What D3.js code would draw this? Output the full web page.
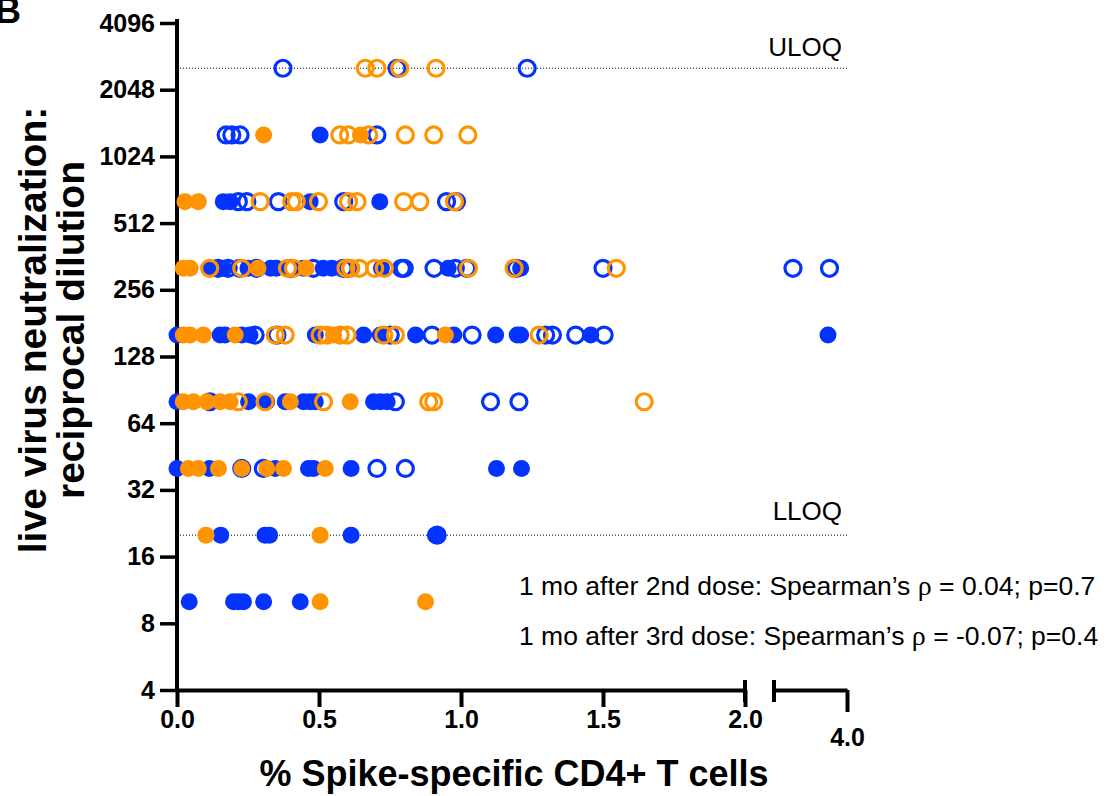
<!DOCTYPE html>
<html>
<head>
<meta charset="utf-8">
<script src="https://cdn.jsdelivr.net/npm/d3@7"></script>
<style>
  body { margin: 0; background: #fff; }
  text { font-family: "Liberation Sans", Arial, sans-serif; }
</style>
</head>
<body>
<div id="chart"></div>
<script>
// [x = % spike-specific CD4+ T cells, y = reciprocal dilution]
const dose2Filled = [
    [0.504, 1280],
    [0.163, 640], [0.187, 640], [0.469, 640], [0.714, 640],
    [0.115, 320], [0.135, 320], [0.165, 320], [0.25, 320], [0.33, 320], [0.35, 320], [0.445, 320],
    [0.515, 320], [0.545, 320], [0.72, 320], [0.955, 320], [1.21, 320],
    [0.0, 160], [0.152, 160], [0.169, 160], [0.228, 160], [0.257, 160], [0.487, 160], [0.657, 160],
    [0.716, 160], [0.84, 160], [0.975, 160], [1.122, 160], [1.198, 160], [1.21, 160], [1.457, 160], [3.87, 160],
    [0.0, 80], [0.252, 80], [0.316, 80], [0.381, 80], [0.446, 80], [0.469, 80], [0.487, 80],
    [0.692, 80], [0.716, 80], [0.74, 80],
    [0.0, 40], [0.114, 40], [0.346, 40], [0.463, 40], [0.481, 40], [0.613, 40], [1.125, 40], [1.213, 40],
    [0.154, 20], [0.31, 20], [0.326, 20], [0.613, 20], [0.91, 20],
    [0.043, 10], [0.199, 10], [0.216, 10], [0.234, 10], [0.305, 10], [0.434, 10]
];
const dose2Open = [
    [0.373, 2560], [0.775, 2560], [1.233, 2560],
    [0.173, 1280], [0.193, 1280], [0.222, 1280], [0.704, 1280],
    [0.216, 640], [0.246, 640], [0.357, 640], [0.587, 640], [0.949, 640], [0.984, 640],
    [0.145, 320], [0.18, 320], [0.22, 320], [0.28, 320], [0.4, 320], [0.48, 320], [0.585, 320],
    [0.6, 320], [0.79, 320], [0.8, 320], [0.905, 320], [0.98, 320], [1.02, 320], [1.195, 320],
    [1.5, 320], [3.63, 320], [3.88, 320],
    [0.275, 160], [0.352, 160], [0.751, 160], [0.898, 160], [1.039, 160], [1.298, 160], [1.322, 160],
    [1.404, 160], [1.504, 160],
    [0.116, 80], [0.769, 80], [1.104, 80], [1.204, 80],
    [0.228, 40], [0.304, 40], [0.704, 40], [0.804, 40],
    [0.916, 20]
];
const dose3Filled = [
    [0.305, 1280], [0.646, 1280],
    [0.028, 640], [0.075, 640],
    [0.022, 320], [0.046, 320], [0.285, 320], [0.455, 320],
    [0.022, 160], [0.046, 160], [0.093, 160], [0.205, 160], [0.551, 160], [0.945, 160],
    [0.022, 80], [0.058, 80], [0.105, 80], [0.152, 80], [0.187, 80], [0.399, 80], [0.61, 80],
    [0.04, 40], [0.075, 40], [0.146, 40], [0.228, 40], [0.316, 40], [0.375, 40], [0.522, 40],
    [0.102, 20], [0.504, 20],
    [0.504, 10], [0.875, 10]
];
const dose3Open = [
    [0.663, 2560], [0.704, 2560], [0.784, 2560], [0.912, 2560],
    [0.573, 1280], [0.604, 1280], [0.675, 1280], [0.804, 1280], [0.904, 1280], [1.024, 1280],
    [0.293, 640], [0.404, 640], [0.42, 640], [0.498, 640], [0.604, 640], [0.634, 640],
    [0.798, 640], [0.855, 640], [0.977, 640],
    [0.115, 320], [0.228, 320], [0.389, 320], [0.41, 320], [0.595, 320], [0.612, 320], [0.642, 320],
    [0.696, 320], [0.73, 320], [1.026, 320], [1.187, 320], [1.547, 320],
    [0.346, 160], [0.381, 160], [0.504, 160], [0.528, 160], [0.575, 160], [0.599, 160], [0.728, 160],
    [0.769, 160], [1.275, 160],
    [0.216, 80], [0.31, 80], [0.516, 80], [0.886, 80], [0.904, 80], [1.645, 80]
];

const yTicks = [4, 8, 16, 32, 64, 128, 256, 512, 1024, 2048, 4096];
const xTicksA = [0, 0.5, 1.0, 1.5, 2.0];
const xTicksB = [4.0];
const uloq = 2560;
const lloq = 20;
const notes = [
    ["1 mo after 2nd dose: Spearman\u2019s ", "\u03c1", " = 0.04; p=0.7"],
    ["1 mo after 3rd dose: Spearman\u2019s ", "\u03c1", " = -0.07; p=0.4"]
];

const blue = '#0433ff';
const orange = '#ff9300';

const margin = { top: 23, left: 177 };
const height = 667;

const svg = d3.select('#chart')
    .append('svg')
    .attr('width', 1113)
    .attr('height', 796);

const g = svg.append('g')
    .attr('transform', `translate(${margin.left},${margin.top})`);

const y = d3.scaleLog().base(2).domain([4, 4096]).range([height, 0]);
const xA = d3.scaleLinear().domain([0, 2]).range([0, 568]);
const xB = d3.scaleLinear().domain([3.5, 4.0]).range([597, 670]);
const x = v => v > 2.5 ? xB(v) : xA(v);

// reference lines
[[uloq, 'ULOQ', -12], [lloq, 'LLOQ', -15]].forEach(([v, label, dy]) => {
    g.append('line')
        .attr('x1', 3).attr('x2', 670)
        .attr('y1', y(v)).attr('y2', y(v))
        .attr('stroke', '#000')
        .attr('stroke-width', 1)
        .attr('stroke-dasharray', '1,2');
    g.append('text')
        .attr('x', 665).attr('y', y(v) + dy)
        .attr('text-anchor', 'end')
        .style('font-size', '26px')
        .text(label);
});

// y axis
const yAxis = g.append('g')
    .call(d3.axisLeft(y).tickValues(yTicks).tickFormat(d3.format('d')).tickSize(17).tickSizeOuter(0).tickPadding(5));
yAxis.select('.domain').attr('stroke-width', 4).attr('d', `M0,-4V${height}`);
yAxis.selectAll('.tick line').attr('stroke-width', 3.5);
yAxis.selectAll('.tick text')
    .style('font-size', '25px')
    .style('font-weight', 'bold')
    .attr('fill', '#000');

// x axis, broken
const xAxisA = g.append('g')
    .attr('transform', `translate(0,${height})`)
    .call(d3.axisBottom(xA).tickValues(xTicksA).tickFormat(d3.format('.1f')).tickSize(17).tickSizeOuter(0).tickPadding(3));
const xAxisB = g.append('g')
    .attr('transform', `translate(0,${height})`)
    .call(d3.axisBottom(xB).tickValues(xTicksB).tickFormat(d3.format('.1f')).tickSize(22).tickSizeOuter(0).tickPadding(16));
[xAxisA, xAxisB].forEach(ax => {
    ax.select('.domain').attr('stroke-width', 4);
    ax.selectAll('.tick line').attr('stroke-width', 4);
    ax.selectAll('.tick text')
        .style('font-size', '25px')
        .style('font-weight', 'bold')
        .attr('fill', '#000');
});
// break caps
[xA(2), xB(3.5)].forEach(px => {
    g.append('line')
        .attr('x1', px).attr('x2', px)
        .attr('y1', height - 10).attr('y2', height + 12)
        .attr('stroke', '#000')
        .attr('stroke-width', 4);
});

// points
const groups = [
    { data: dose2Filled, color: blue, open: false },
    { data: dose2Open, color: blue, open: true },
    { data: dose3Filled, color: orange, open: false },
    { data: dose3Open, color: orange, open: true }
];
groups.forEach(s => {
    g.append('g')
        .selectAll('circle')
        .data(s.data)
        .join('circle')
        .attr('cx', d => x(d[0]))
        .attr('cy', d => y(d[1]))
        .attr('r', s.open ? 8 : 8.5)
        .attr('fill', s.open ? 'none' : s.color)
        .attr('stroke', s.open ? s.color : 'none')
        .attr('stroke-width', 3.2);
});

// annotations
notes.forEach((n, i) => {
    const t = g.append('text')
        .attr('x', 342)
        .attr('y', 572 + i * 50)
        .style('font-size', '26.5px');
    t.append('tspan').text(n[0]);
    t.append('tspan').style('font-family', '"Liberation Serif", serif').style('font-size', '28px').text(n[1]);
    t.append('tspan').text(n[2]);
});

// axis titles
svg.append('text')
    .attr('x', 514).attr('y', 786)
    .attr('text-anchor', 'middle')
    .style('font-size', '36px')
    .style('font-weight', 'bold')
    .text('% Spike-specific CD4+ T cells');

const yTitle = svg.append('text')
    .attr('transform', 'translate(46,330) rotate(-90)')
    .attr('text-anchor', 'middle')
    .style('font-size', '39px')
    .style('font-weight', 'bold');
yTitle.append('tspan').attr('x', 0).attr('dy', 0).text('live virus neutralization:');
yTitle.append('tspan').attr('x', 0).attr('dy', 38).text('reciprocal dilution');

svg.append('text')
    .attr('x', -5).attr('y', 23)
    .style('font-size', '36px')
    .style('font-weight', 'bold')
    .text('B');
</script>
</body>
</html>
